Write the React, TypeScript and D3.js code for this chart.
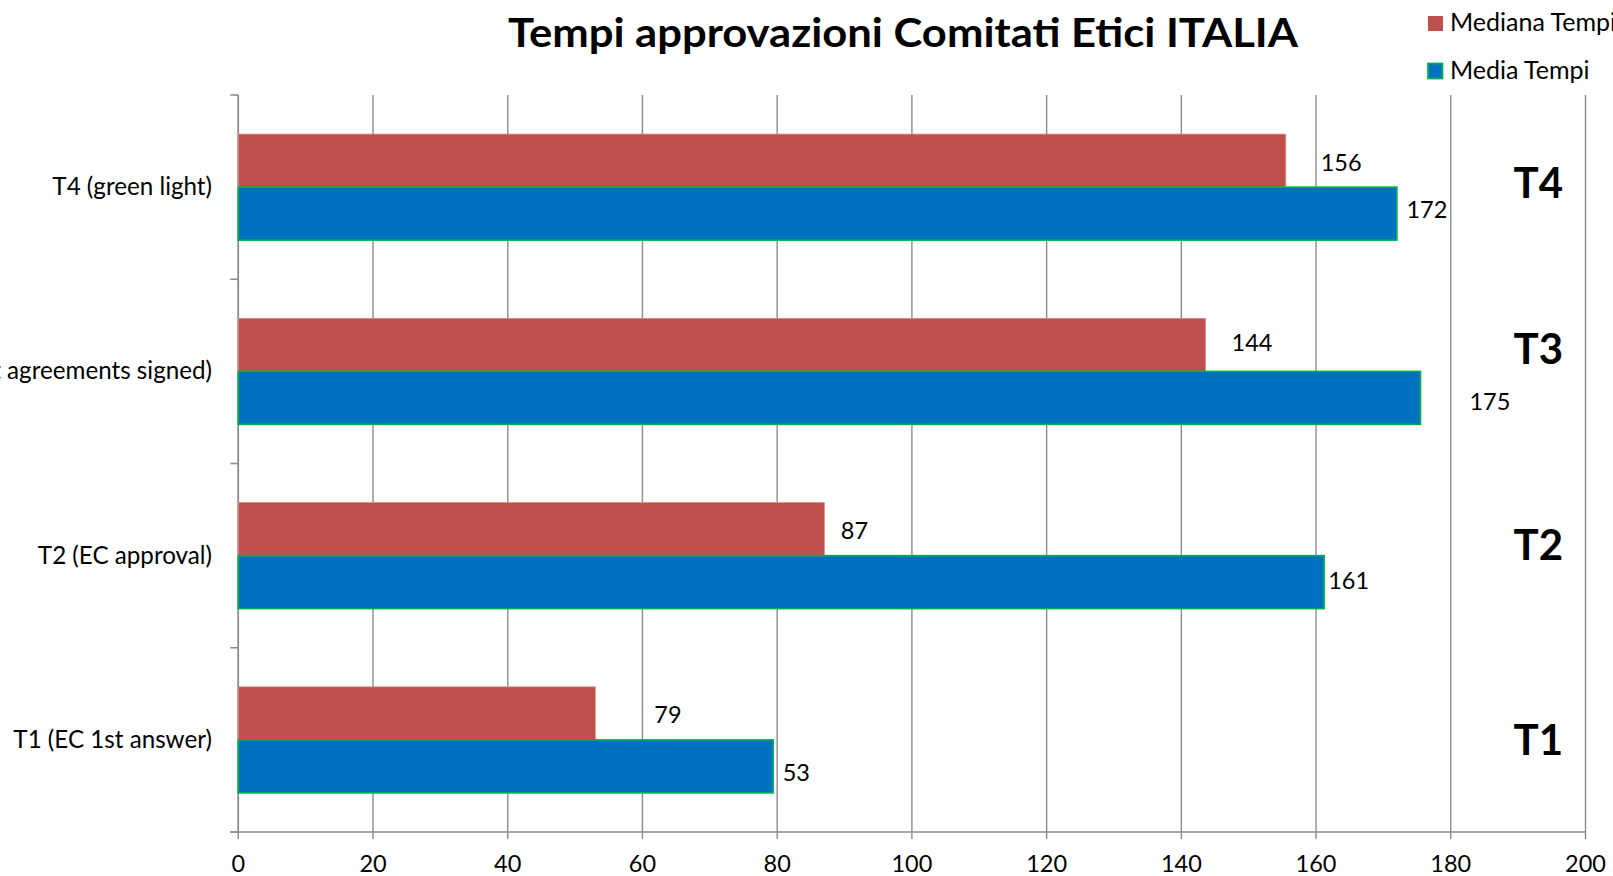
import React from "react";
import * as d3 from "d3";

const title = "Tempi approvazioni Comitati Etici ITALIA";
const categories = ["T4 (green light)", "T3 (contract agreements signed)", "T2 (EC approval)", "T1 (EC 1st answer)"];
const shortLabels = ["T4", "T3", "T2", "T1"];
const seriesNames = ["Mediana Tempi", "Media Tempi"];
const medianaValues = [155.5, 143.6, 87, 53];
const mediaValues = [172, 175.5, 161.2, 79.4];
const medianaLabels = ["156", "144", "87", "79"];
const mediaLabels = ["172", "175", "161", "53"];
const xTicks = [0, 20, 40, 60, 80, 100, 120, 140, 160, 180, 200];

// layout nudges for manually placed labels (px)
const medianaNudge = [[35, 1], [26, -2.5], [16.5, 1], [59, 1]];
const mediaNudge = [[9.5, -5], [49, 3.5], [4, -2.5], [9.5, 6]];
const shortNudge = [11, -7, 4.5, 15];

const W = 1613;
const H = 876;
const RED = "#C0504D";
const BLUE = "#0070C0";
const GREEN = "#00B050";
const GRID = "#8C8C8C";
const FONT = "Lato, 'Open Sans', sans-serif";

export default function App() {
  const x = d3.scaleLinear().domain([0, 200]).range([238.3, 1585.5]);
  const y = d3
    .scaleBand<string>()
    .domain(categories)
    .range([95, 832])
    .paddingInner(0.4245)
    .paddingOuter(0.21225);
  const sub = d3.scaleBand<string>().domain(seriesNames).range([0, y.bandwidth()]);
  const step = y.step();
  const catTicks = d3.range(categories.length + 1).map((i) => 95 + i * step);
  const x0 = x(0);

  return (
    <svg
      width={W}
      height={H}
      style={{ position: "absolute", left: 0, top: 0, background: "#fff" }}
      fontFamily={FONT}
    >
      <rect x={0} y={0} width={W} height={H} fill="#fff" />
      {/* gridlines */}
      {xTicks.map((t) => (
        <line key={"g" + t} x1={x(t)} x2={x(t)} y1={95} y2={839} stroke={GRID} strokeWidth={1.4} />
      ))}
      {/* y axis */}
      <line x1={x0} x2={x0} y1={95} y2={832} stroke={GRID} strokeWidth={1.6} />
      {catTicks.map((t, i) => (
        <line key={"ct" + i} x1={x0 - 8} x2={x0} y1={t} y2={t} stroke={GRID} strokeWidth={1.6} />
      ))}
      {/* x axis */}
      <line x1={x0 - 8} x2={x(200)} y1={832} y2={832} stroke={GRID} strokeWidth={1.6} />
      {xTicks.map((t) => (
        <text key={"tl" + t} x={x(t)} y={872} textAnchor="middle" fontSize={23.5} fill="#000">
          {t}
        </text>
      ))}
      {/* bars */}
      {categories.map((c, i) => {
        const by = y(c)!;
        const yr = by + sub(seriesNames[0])!;
        const yb = by + sub(seriesNames[1])!;
        const h = sub.bandwidth();
        return (
          <g key={c}>
            <rect x={x0} y={yr} width={x(medianaValues[i]) - x0} height={h} fill={RED} stroke="#D98987" strokeWidth={0.8} />
            <rect x={x0} y={yb} width={x(mediaValues[i]) - x0} height={h} fill={BLUE} stroke={GREEN} strokeWidth={1.6} />
            <text
              x={x(medianaValues[i]) + medianaNudge[i][0]}
              y={yr + h / 2 + medianaNudge[i][1]}
              dominantBaseline="central"
              fontSize={23.5}
              fill="#000"
            >
              {medianaLabels[i]}
            </text>
            <text
              x={x(mediaValues[i]) + mediaNudge[i][0]}
              y={yb + h / 2 + mediaNudge[i][1]}
              dominantBaseline="central"
              fontSize={23.5}
              fill="#000"
            >
              {mediaLabels[i]}
            </text>
            <text x={212} y={by + y.bandwidth() / 2 + 8} textAnchor="end" fontSize={24.2} fill="#000">
              {c}
            </text>
            <text
              x={1563}
              y={by + y.bandwidth() / 2 + shortNudge[i]}
              textAnchor="end"
              fontSize={42}
              fontWeight="bold"
              fill="#000"
            >
              {shortLabels[i]}
            </text>
          </g>
        );
      })}
      {/* title */}
      <text x={508} y={46.7} fontSize={40.5} fontWeight="bold" fill="#000" textLength={790} lengthAdjust="spacingAndGlyphs">
        {title}
      </text>
      {/* legend */}
      <rect x={1428} y={16} width={15} height={15} fill={RED} />
      <text x={1450} y={31} fontSize={25} fill="#000">
        {seriesNames[0]}
      </text>
      <rect x={1428} y={63.5} width={14.5} height={15} fill={BLUE} stroke={GREEN} strokeWidth={1.8} />
      <text x={1450} y={79} fontSize={25} fill="#000">
        {seriesNames[1]}
      </text>
    </svg>
  );
}
